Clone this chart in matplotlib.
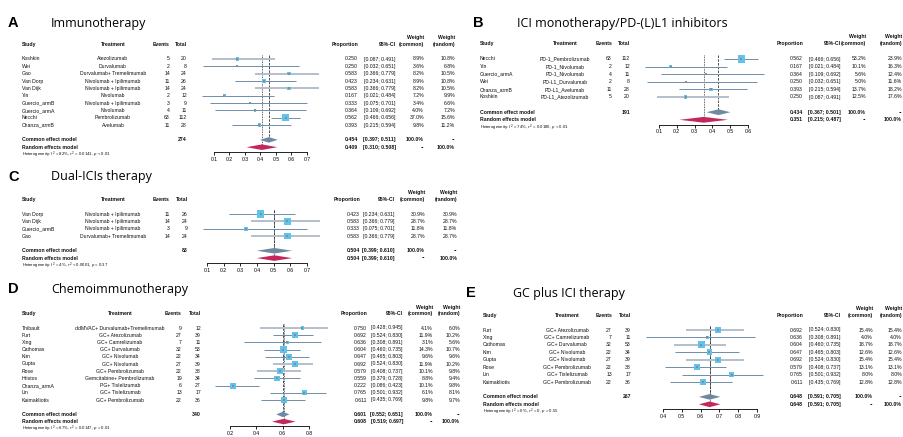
import numpy as np
import matplotlib
matplotlib.use('Agg')
from matplotlib import pyplot as plt
from matplotlib.transforms import blended_transform_factory

plt.rcParams['font.family'] = 'Liberation Sans'
plt.rcParams['mathtext.fontset'] = 'custom'
plt.rcParams['mathtext.rm'] = 'Liberation Sans'
plt.rcParams['mathtext.it'] = 'Liberation Sans:italic'

W, H = 904, 437

# A - Immunotherapy
a_study = ['Koshkin', 'Wei', 'Gao', 'Van Dorp', 'Van Dijk', 'Yin', 'Guercio_armB',
           'Guercio_armA', 'Necchi', 'Chanza_armB']
a_treat = ['Atezolizumab', 'Durvalumab', 'Durvalumab+ Tremelimumab', 'Nivolumab + Ipilimumab',
           'Nivolumab + Ipilimumab', 'Nivolumab', 'Nivolumab + Ipilimumab', 'Nivolumab',
           'Pembrolizumab', 'Avelumab']
a_events = [5, 2, 14, 11, 14, 2, 3, 4, 63, 11]
a_total = [20, 8, 24, 26, 24, 12, 9, 11, 112, 28]
a_prop = [0.250, 0.250, 0.583, 0.423, 0.583, 0.167, 0.333, 0.364, 0.562, 0.393]
a_lo = [0.087, 0.032, 0.366, 0.234, 0.366, 0.021, 0.075, 0.109, 0.466, 0.215]
a_hi = [0.491, 0.651, 0.779, 0.631, 0.779, 0.484, 0.701, 0.692, 0.656, 0.594]
a_wc = [8.9, 3.6, 8.2, 8.9, 8.2, 7.2, 3.4, 4.0, 37.0, 9.8]
a_wr = [10.8, 6.8, 10.5, 10.8, 10.5, 9.9, 6.6, 7.2, 15.6, 11.2]
a_common = [0.454, 0.397, 0.511]
a_random = [0.409, 0.310, 0.508]
a_het = r'Heterogeneity: $I^2$ = 82%, $\tau^2$ = 0.0141, $p$ < 0.01'
a_ticks = [0.1, 0.2, 0.3, 0.4, 0.5, 0.6, 0.7]

# B - ICI monotherapy
b_study = ['Necchi', 'Yin', 'Guercio_armA', 'Wei', 'Chanza_armB', 'Koshkin']
b_treat = ['PD-1_Pembrolizumab', 'PD-1_Nivolumab', 'PD-1_Nivolumab', 'PD-L1_Durvalumab',
           'PD-L1_Avelumab', 'PD-L1_Atezolizumab']
b_events = [63, 2, 4, 2, 11, 5]
b_total = [112, 12, 11, 8, 28, 20]
b_prop = [0.562, 0.167, 0.364, 0.250, 0.393, 0.250]
b_lo = [0.466, 0.021, 0.109, 0.032, 0.215, 0.087]
b_hi = [0.656, 0.484, 0.692, 0.651, 0.594, 0.491]
b_wc = [53.2, 10.1, 5.6, 5.0, 13.7, 12.5]
b_wr = [23.9, 16.3, 12.4, 11.6, 18.2, 17.6]
b_common = [0.434, 0.367, 0.501]
b_random = [0.351, 0.215, 0.487]
b_het = r'Heterogeneity: $I^2$ = 74%, $\tau^2$ = 0.0180, $p$ < 0.01'
b_ticks = [0.1, 0.2, 0.3, 0.4, 0.5, 0.6]

# C - Dual-ICIs
c_study = ['Van Dorp', 'Van Dijk', 'Guercio_armB', 'Gao']
c_treat = ['Nivolumab + Ipilimumab', 'Nivolumab + Ipilimumab', 'Nivolumab + Ipilimumab',
           'Durvalumab+ Tremelimumab']
c_events = [11, 14, 3, 14]
c_total = [26, 24, 9, 24]
c_prop = [0.423, 0.583, 0.333, 0.583]
c_lo = [0.234, 0.366, 0.075, 0.366]
c_hi = [0.631, 0.779, 0.701, 0.779]
c_wc = [30.9, 28.7, 11.8, 28.7]
c_wr = [30.9, 28.7, 11.8, 28.7]
c_common = [0.504, 0.399, 0.610]
c_random = [0.504, 0.399, 0.610]
c_het = r'Heterogeneity: $I^2$ = 4%, $\tau^2$ < 0.0001, $p$ = 0.37'
c_ticks = [0.1, 0.2, 0.3, 0.4, 0.5, 0.6, 0.7]

# D - Chemoimmunotherapy
d_study = ['Thibault', 'Furt', 'Xing', 'Cathomas', 'Kim', 'Gupta', 'Rose', 'Hristos',
           'Chanza_armA', 'Lin', 'Kaimakliotis']
d_treat = ['ddMVAC+ Durvalumab+Tremelimumab', 'GC+ Atezolizumab', 'GC+ Camrelizumab',
           'GC+ Durvalumab', 'GC+ Nivolumab', 'GC+ Nivolumab', 'GC+ Pembrolizumab',
           'Gemcitabine+ Pembrolizumab', 'PG+ Tislelizumab', 'GC+ Tislelizumab',
           'GC+ Pembrolizumab']
d_events = [9, 27, 7, 32, 22, 27, 22, 19, 6, 13, 22]
d_total = [12, 39, 11, 53, 34, 39, 38, 34, 27, 17, 36]
d_prop = [0.750, 0.692, 0.636, 0.604, 0.647, 0.692, 0.579, 0.559, 0.222, 0.765, 0.611]
d_lo = [0.428, 0.524, 0.308, 0.460, 0.465, 0.524, 0.408, 0.379, 0.086, 0.501, 0.435]
d_hi = [0.945, 0.830, 0.891, 0.735, 0.803, 0.830, 0.737, 0.728, 0.423, 0.932, 0.769]
d_wc = [4.1, 11.9, 3.1, 14.3, 9.6, 11.9, 10.1, 8.8, 10.1, 6.1, 9.8]
d_wr = [6.0, 10.2, 5.6, 10.7, 9.6, 10.2, 9.8, 9.4, 9.8, 8.1, 9.7]
d_common = [0.601, 0.552, 0.651]
d_random = [0.608, 0.519, 0.697]
d_het = r'Heterogeneity: $I^2$ = 67%, $\tau^2$ = 0.0147, $p$ = 0.01'
d_ticks = [0.2, 0.4, 0.6, 0.8]

# E - GC plus ICI
e_study = ['Furt', 'Xing', 'Cathomas', 'Kim', 'Gupta', 'Rose', 'Lin', 'Kaimakliotis']
e_treat = ['GC+ Atezolizumab', 'GC+ Camrelizumab', 'GC+ Durvalumab', 'GC+ Nivolumab',
           'GC+ Nivolumab', 'GC+ Pembrolizumab', 'GC+ Tislelizumab', 'GC+ Pembrolizumab']
e_events = [27, 7, 32, 22, 27, 22, 13, 22]
e_total = [39, 11, 53, 34, 39, 38, 17, 36]
e_prop = [0.692, 0.636, 0.604, 0.647, 0.692, 0.579, 0.765, 0.611]
e_lo = [0.524, 0.308, 0.460, 0.465, 0.524, 0.408, 0.501, 0.435]
e_hi = [0.830, 0.891, 0.735, 0.803, 0.830, 0.737, 0.932, 0.769]
e_wc = [15.4, 4.0, 18.7, 12.6, 15.4, 13.1, 8.0, 12.8]
e_wr = [15.4, 4.0, 18.7, 12.6, 15.4, 13.1, 8.0, 12.8]
e_common = [0.648, 0.591, 0.705]
e_random = [0.648, 0.591, 0.705]
e_het = r'Heterogeneity: $I^2$ = 0%, $\tau^2$ = 0, $p$ = 0.55'
e_ticks = [0.4, 0.5, 0.6, 0.7, 0.8, 0.9]

# layout (pixels) for each panel
panels = [
    dict(letter='A', title='Immunotherapy', lx=8, tx=51, ty=23, y0=59, dy=7.35,
         cols=(22, 113, 170, 187, 358, 396, 424, 455), axpx=(214, 307), light=[0, 2, 4],
         study=a_study, treat=a_treat, events=a_events, total=a_total, prop=a_prop,
         lo=a_lo, hi=a_hi, wc=a_wc, wr=a_wr, common=a_common, random=a_random,
         het=a_het, ticks=a_ticks),
    dict(letter='B', title='ICI monotherapy/PD-(L)L1 inhibitors', lx=473, tx=517, ty=23,
         y0=59, dy=7.6, cols=(480, 565, 612, 630, 803, 841, 866, 902), axpx=(659, 748),
         light=[5],
         study=b_study, treat=b_treat, events=b_events, total=b_total, prop=b_prop,
         lo=b_lo, hi=b_hi, wc=b_wc, wr=b_wr, common=b_common, random=b_random,
         het=b_het, ticks=b_ticks),
    dict(letter='C', title='Dual-ICIs therapy', lx=8, tx=51, ty=177, y0=214, dy=7.35,
         cols=(22, 113, 170, 188, 360, 395, 425, 457), axpx=(207, 307), light=[1, 3],
         study=c_study, treat=c_treat, events=c_events, total=c_total, prop=c_prop,
         lo=c_lo, hi=c_hi, wc=c_wc, wr=c_wr, common=c_common, random=c_random,
         het=c_het, ticks=c_ticks),
    dict(letter='D', title='Chemoimmunotherapy', lx=8, tx=51, ty=289, y0=328, dy=7.2,
         cols=(22, 120, 182, 201, 367, 403, 433, 460), axpx=(230, 309), light=[0, 5, 6],
         study=d_study, treat=d_treat, events=d_events, total=d_total, prop=d_prop,
         lo=d_lo, hi=d_hi, wc=d_wc, wr=d_wr, common=d_common, random=d_random,
         het=d_het, ticks=d_ticks),
    dict(letter='E', title='GC plus ICI therapy', lx=466, tx=513, ty=293, y0=330, dy=7.43,
         cols=(483, 567, 612, 631, 803, 841, 873, 902), axpx=(663, 757), light=[0, 2, 4],
         study=e_study, treat=e_treat, events=e_events, total=e_total, prop=e_prop,
         lo=e_lo, hi=e_hi, wc=e_wc, wr=e_wr, common=e_common, random=e_random,
         het=e_het, ticks=e_ticks),
]

sq_col = '#62c3ea'
line_light = '#b3bfcb'
line_dark = '#6f8daa'
com_col = '#6e8aa3'
ran_col = '#c3275e'
fs = 3.7

fig = plt.figure(figsize=(W / 100, H / 100), dpi=100)

for p in panels:
    n = len(p['study'])
    y0, dy = p['y0'], p['dy']
    top = y0 - 3.5 * dy
    bot = y0 + (n + 4.6) * dy
    xl, xr = p['axpx']
    ax = fig.add_axes([xl / W, 1 - bot / H, (xr - xl) / W, (bot - top) / H])
    ax.set_xlim(p['ticks'][0], p['ticks'][-1])
    ax.set_ylim(n + 4.6, -3.5)
    ax.patch.set_visible(False)
    for s in ['top', 'right', 'left']:
        ax.spines[s].set_visible(False)
    ax.spines['bottom'].set_position(('data', n + 2.65))
    ax.spines['bottom'].set_linewidth(0.6)
    ax.set_yticks([])
    ax.set_xticks(p['ticks'])
    ax.set_xticklabels(['%.1f' % t for t in p['ticks']])
    ax.tick_params(axis='x', direction='out', length=2.2, width=0.6, labelsize=fs, pad=1.2)

    rows = np.arange(n)
    wc = np.array(p['wc'])
    for i in range(n):
        light = i in p['light']
        ax.plot([p['lo'][i], p['hi'][i]], [i, i], color=line_light if light else line_dark,
                lw=1.4 if light else 0.7, clip_on=False, zorder=2, solid_capstyle='butt')
    # box area proportional to weight
    ax.scatter(p['prop'], rows, s=26 * wc / wc.max(), marker='s', color=sq_col,
               linewidths=0, zorder=3, clip_on=False)
    ax.scatter(p['prop'], rows, s=0.6, marker='s', color='#7a8f9f', linewidths=0,
               zorder=4, clip_on=False)

    # reference lines
    ax.plot([p['common'][0]] * 2, [-0.5, n + 1], color='#333333', lw=0.6,
            ls=(0, (3, 1.5)), zorder=1)
    ax.plot([p['random'][0]] * 2, [-0.5, n + 2], color='#333333', lw=0.6,
            ls=(0, (1, 1)), zorder=1)

    # diamonds
    h = 0.38
    for (est, lo, hi), r, c in [(p['common'], n + 1, com_col), (p['random'], n + 2, ran_col)]:
        ax.fill([lo, est, hi, est], [r, r - h, r, r + h], color=c, lw=0, zorder=3,
                clip_on=False)

    tr = blended_transform_factory(fig.transFigure, ax.transData)
    sx, tcx, evr, tor, prr, cir, wcr, wrr = [c / W for c in p['cols']]

    def txt(x, y, s, ha='right', bold=False, size=fs):
        ax.text(x, y, s, transform=tr, ha=ha, va='center', fontsize=size,
                fontweight='bold' if bold else 'normal', color='#111111')

    # header
    txt(sx, -2, 'Study', 'left', True)
    txt(tcx, -2, 'Treatment', 'center', True)
    txt(evr, -2, 'Events', bold=True)
    txt(tor, -2, 'Total', bold=True)
    txt(prr, -2, 'Proportion', bold=True)
    txt(cir, -2, '95%-CI', bold=True)
    txt(wcr, -2.9, 'Weight', bold=True)
    txt(wrr, -2.9, 'Weight', bold=True)
    txt(wcr, -2, '(common)', bold=True)
    txt(wrr, -2, '(random)', bold=True)

    for i in range(n):
        txt(sx, i, p['study'][i], 'left')
        txt(tcx, i, p['treat'][i], 'center')
        txt(evr, i, str(p['events'][i]))
        txt(tor, i, str(p['total'][i]))
        txt(prr, i, '%.3f' % p['prop'][i])
        txt(cir, i, '[%.3f; %.3f]' % (p['lo'][i], p['hi'][i]))
        txt(wcr, i, '%.1f%%' % p['wc'][i])
        txt(wrr, i, '%.1f%%' % p['wr'][i])

    est, lo, hi = p['common']
    txt(sx, n + 1, 'Common effect model', 'left', True)
    txt(tor, n + 1, str(sum(p['total'])), bold=True)
    txt(prr, n + 1, '%.3f' % est, bold=True)
    txt(cir, n + 1, '[%.3f; %.3f]' % (lo, hi), bold=True)
    txt(wcr, n + 1, '100.0%', bold=True)
    txt(wrr, n + 1, '--', bold=True)
    est, lo, hi = p['random']
    txt(sx, n + 2, 'Random effects model', 'left', True)
    txt(prr, n + 2, '%.3f' % est, bold=True)
    txt(cir, n + 2, '[%.3f; %.3f]' % (lo, hi), bold=True)
    txt(wcr, n + 2, '--', bold=True)
    txt(wrr, n + 2, '100.0%', bold=True)
    txt(sx, n + 3, p['het'], 'left', size=3.1)

    fig.text(p['lx'] / W, 1 - p['ty'] / H, p['letter'], fontsize=10.5, fontweight='bold',
             va='center', ha='left')
    fig.text(p['tx'] / W, 1 - p['ty'] / H, p['title'], fontsize=9, family='Open Sans',
             va='center', ha='left')

fig.savefig('out.png', dpi=100)
plt.close()
